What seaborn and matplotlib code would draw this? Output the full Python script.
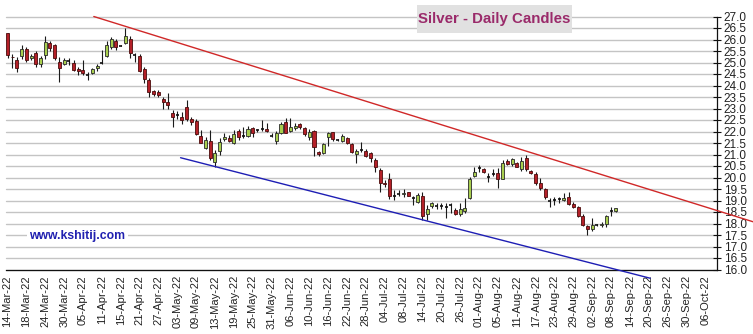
import numpy as np
import pandas as pd
import matplotlib
matplotlib.use("Agg")
import matplotlib.pyplot as plt
from matplotlib.patches import Rectangle
import seaborn as sns

# ---------------- data ----------------
start_date = "2022-03-14"
n_axis_days = 151          # trading-day slots shown on the axis
tick_every = 4

opens = [26.28, 25.25, 25.09, 25.28, 25.59, 25.19, 25.42, 24.94, 25.33, 25.85,
         25.74, 25.01, 24.92, 25.06, 24.99, 24.73, 24.68, 24.47, 24.55, 24.76,
         24.98, 25.28, 25.67, 25.93, 25.72, 25.85, 26.02, 25.33, 25.28, 24.73,
         24.24, 23.76, 23.70, 23.41, 23.30, 22.80, 22.72, 22.62, 23.05, 22.56,
         22.46, 21.79, 21.27, 21.59, 20.69, 21.17, 21.67, 21.72, 21.49, 22.04,
         21.80, 21.82, 22.14, 22.05, 22.12, 22.09, 21.82, 21.60, 21.92, 22.40,
         22.04, 22.14, 22.31, 22.14, 21.78, 22.04, 21.10, 21.08, 21.75, 21.96,
         21.63, 21.59, 21.70, 21.46, 21.01, 21.20, 21.17, 21.05, 20.76, 20.33,
         19.78, 19.92, 19.20, 19.27, 19.27, 19.36, 19.10, 18.95, 19.20, 18.41,
         18.76, 18.78, 18.78, 18.73, 18.82, 18.59, 18.41, 18.56, 19.09, 20.06,
         20.40, 20.35, 20.02, 20.14, 20.21, 19.92, 20.73, 20.57, 20.62, 20.35,
         20.86, 20.28, 20.14, 19.78, 19.49, 19.00, 19.02, 19.05, 19.02, 19.17,
         18.85, 18.70, 18.33, 17.89, 17.75, 17.93, 17.93, 18.00, 18.54, 18.54]
highs = [26.30, 25.35, 25.23, 25.74, 25.66, 25.35, 25.52, 25.30, 26.17, 25.95,
         25.81, 25.23, 25.20, 25.20, 25.09, 24.81, 25.12, 24.59, 24.76, 24.92,
         25.55, 25.95, 26.10, 26.02, 25.74, 26.50, 26.17, 25.42, 25.38, 24.81,
         24.31, 23.80, 23.80, 23.51, 23.66, 22.94, 22.89, 22.86, 23.37, 22.65,
         22.56, 22.07, 21.78, 22.07, 21.20, 21.73, 21.92, 21.85, 22.07, 22.10,
         22.18, 22.24, 22.18, 22.10, 22.50, 22.35, 21.92, 22.04, 22.40, 22.57,
         22.57, 22.35, 22.35, 22.18, 22.09, 22.07, 21.17, 21.51, 21.99, 21.99,
         21.67, 21.89, 21.77, 21.49, 21.23, 21.56, 21.23, 21.10, 20.83, 20.40,
         19.90, 20.18, 19.46, 19.46, 19.49, 19.38, 19.21, 19.34, 19.38, 18.80,
         18.95, 18.91, 18.88, 18.88, 18.91, 18.66, 18.88, 19.10, 20.04, 20.47,
         20.54, 20.40, 20.18, 20.35, 20.40, 20.76, 20.79, 20.83, 20.69, 20.90,
         20.98, 20.33, 20.25, 19.96, 19.53, 19.09, 19.14, 19.14, 19.31, 19.38,
         18.95, 18.76, 18.41, 17.93, 18.22, 17.97, 18.07, 18.37, 18.73, 18.68]
lows = [25.20, 24.76, 24.58, 25.16, 25.02, 25.09, 24.80, 24.80, 25.16, 25.52,
        25.09, 24.15, 24.87, 24.87, 24.61, 24.45, 24.45, 24.25, 24.50, 24.63,
        24.92, 25.23, 25.59, 25.55, 25.70, 25.81, 25.20, 25.01, 24.58, 24.13,
        23.51, 23.55, 23.49, 23.00, 23.00, 22.18, 22.53, 22.33, 22.46, 22.28,
        21.85, 21.49, 21.24, 20.76, 20.44, 20.98, 21.60, 21.56, 21.44, 21.63,
        21.73, 21.76, 21.78, 21.98, 22.03, 21.99, 21.78, 21.46, 21.89, 21.92,
        21.96, 22.07, 22.09, 21.82, 21.63, 20.95, 20.94, 21.01, 21.38, 21.60,
        21.59, 21.53, 21.46, 21.08, 20.62, 21.12, 20.91, 20.69, 20.25, 19.38,
        19.60, 19.05, 19.02, 19.20, 19.17, 19.20, 18.80, 18.88, 18.15, 18.15,
        18.66, 18.62, 18.63, 18.22, 18.47, 18.37, 18.33, 18.47, 19.05, 20.04,
        20.22, 20.18, 19.82, 20.06, 19.53, 19.92, 20.54, 20.51, 20.44, 20.30,
        20.28, 20.14, 19.67, 19.46, 19.05, 18.73, 18.80, 18.88, 18.99, 18.80,
        18.66, 18.30, 17.89, 17.50, 17.69, 17.89, 17.86, 17.83, 18.33, 18.52]
closes = [25.33, 25.22, 24.76, 25.59, 25.09, 25.28, 24.94, 25.20, 25.91, 25.62,
          25.20, 24.76, 25.09, 25.05, 24.66, 24.63, 24.55, 24.46, 24.73, 24.83,
          24.99, 25.74, 26.00, 25.69, 25.71, 26.14, 25.42, 25.32, 24.63, 24.30,
          23.73, 23.62, 23.59, 23.27, 23.14, 22.64, 22.71, 22.50, 22.53, 22.43,
          21.89, 21.52, 21.63, 20.83, 21.05, 21.56, 21.78, 21.60, 21.90, 21.75,
          21.79, 22.12, 21.94, 22.04, 22.11, 22.01, 21.81, 21.95, 22.33, 21.95,
          22.18, 22.25, 22.18, 21.88, 21.99, 21.31, 21.01, 21.46, 21.92, 21.66,
          21.62, 21.80, 21.49, 21.12, 21.17, 21.19, 20.94, 20.83, 20.44, 19.77,
          19.72, 19.20, 19.19, 19.26, 19.31, 19.21, 19.09, 19.24, 18.33, 18.62,
          18.88, 18.77, 18.77, 18.72, 18.83, 18.41, 18.62, 18.66, 19.92, 20.22,
          20.39, 20.22, 20.01, 20.13, 19.92, 20.64, 20.57, 20.80, 20.47, 20.73,
          20.35, 20.18, 19.78, 19.53, 19.14, 18.99, 19.01, 19.06, 19.09, 18.85,
          18.73, 18.34, 17.93, 17.75, 17.93, 17.92, 18.00, 18.33, 18.53, 18.66]

# trend lines (x in trading-day index, y in price)
red_trend_x = [18.3, 158.2]
red_trend_y = [27.0, 18.07]
blue_trend_x = [36.7, 136.3]
blue_trend_y = [20.86, 15.62]

y_min, y_max, y_step = 16.0, 27.0, 0.5
title_text = "Silver - Daily Candles"
site_text = "www.kshitij.com"

# ---------------- plot ----------------
sns.set_style("white")
plt.rcParams["font.family"] = ["Liberation Sans", "DejaVu Sans"]

W, H = 753, 334
fig = plt.figure(figsize=(W / 100, H / 100), dpi=100)
ax_left, ax_right, ax_top, ax_bottom = 6, 716.7, 16.5, 269.5
ax = fig.add_axes([ax_left / W, 1 - ax_bottom / H,
                   (ax_right - ax_left) / W, (ax_bottom - ax_top) / H])

dates = pd.bdate_range(start_date, periods=n_axis_days)
df = pd.DataFrame({"open": opens, "high": highs, "low": lows, "close": closes})
df["idx"] = np.arange(len(df))

# grid
yt = np.arange(y_min, y_max + 1e-9, y_step)
for y in yt:
    ax.axhline(y, color="#C4C4C4", lw=1.0, zorder=0)

# wicks
ax.vlines(df["idx"], df["low"], df["high"], color="#1a1a1a", lw=0.8, zorder=2)

# bodies
up = df["close"] > df["open"] + 0.02
down = df["close"] < df["open"] - 0.02
doji = ~(up | down)
bw = 0.64
ax.bar(df.loc[up, "idx"], df.loc[up, "close"] - df.loc[up, "open"],
       bottom=df.loc[up, "open"], width=bw, color="#A8CE4E",
       edgecolor="#2a2a2a", lw=0.6, zorder=3)
ax.bar(df.loc[down, "idx"], df.loc[down, "open"] - df.loc[down, "close"],
       bottom=df.loc[down, "close"], width=bw, color="#B42028",
       edgecolor="#4a0c0c", lw=0.6, zorder=3)
ax.hlines((df.loc[doji, "open"] + df.loc[doji, "close"]) / 2,
          df.loc[doji, "idx"] - bw / 2, df.loc[doji, "idx"] + bw / 2,
          color="#111111", lw=1.2, zorder=3)

# trend lines
trend = pd.DataFrame({"x": red_trend_x + blue_trend_x,
                      "y": red_trend_y + blue_trend_y,
                      "line": ["red"] * 2 + ["blue"] * 2})
sns.lineplot(data=trend, x="x", y="y", hue="line",
             palette={"red": "#D02828", "blue": "#1E1EB4"},
             legend=False, lw=1.0, ax=ax, zorder=4)
for ln in ax.lines:
    ln.set_clip_on(False)

# axes
ax.set_xlim(-0.32, 150.4)
ax.set_ylim(y_min, y_max)
ax.set_xlabel("")
ax.set_ylabel("")
tick_idx = np.arange(0, n_axis_days - 1, tick_every)
ax.set_xticks(tick_idx)
ax.set_xticklabels([dates[i].strftime("%d-%b-%y") for i in tick_idx],
                   rotation=90, fontsize=8, color="#222222")
ax.set_yticks(yt)
ax.set_yticklabels([f"{v:.1f}" for v in yt], fontsize=8.5, color="#222222")
ax.yaxis.tick_right()
ax.tick_params(axis="x", direction="inout", length=6, width=0.8, pad=1,
               color="#111111")
ax.tick_params(axis="y", direction="inout", length=6, width=0.8, pad=2,
               color="#111111")
for s in ["top", "left"]:
    ax.spines[s].set_visible(False)
for s in ["bottom", "right"]:
    ax.spines[s].set_visible(True)
    ax.spines[s].set_color("#111111")
    ax.spines[s].set_linewidth(0.9)

# title box
fig.patches.append(Rectangle((417 / W, 1 - 33 / H), 155 / W, 28 / H,
                             transform=fig.transFigure, fc="#E1E1E1",
                             ec="none", zorder=5))
fig.text(494.5 / W, 1 - 19.5 / H, title_text, ha="center", va="center",
         fontsize=10.8, fontweight="bold", color="#9A2A6A", zorder=6)
# website
fig.text(77.5 / W, 1 - 236 / H, site_text, ha="center", va="center",
         fontsize=8.8, fontweight="bold", color="#2020B0",
         bbox=dict(boxstyle="square,pad=0.2", fc="white", ec="none"))

fig.savefig("out.png", dpi=100)
